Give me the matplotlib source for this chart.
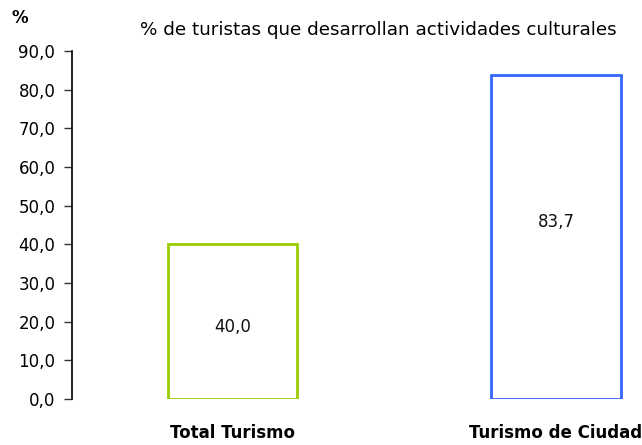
import matplotlib.pyplot as plt

# --- Datos ---
categorias = ["Total Turismo", "Turismo de Ciudad"]
valores = [40.0, 83.7]
colores = ["#99cc00", "#3366ff"]
# altura de la etiqueta dentro de la barra (fracción del valor)
pos_etiqueta = [0.465, 0.547]

plt.rcParams['font.family'] = ['DejaVu Sans']

fig = plt.figure(figsize=(6.42, 4.45), dpi=100)
ax = fig.add_axes([72/642, 46/445, 568/642, 348/445])

x = list(range(len(categorias)))
ax.bar(x, valores, width=0.40, facecolor="white", edgecolor=colores, linewidth=2.0)

for i, v in enumerate(valores):
    ax.text(x[i], v * pos_etiqueta[i], f"{v:.1f}".replace(".", ","),
            ha="center", va="center", fontsize=12, color="#111111")

ax.set_xlim(-0.496, 1.26)
ax.set_ylim(0, 90)
ax.set_yticks(range(0, 91, 10))
ax.set_yticklabels([f"{t:.1f}".replace(".", ",") for t in range(0, 91, 10)], fontsize=12)
ax.set_xticks(x)
ax.set_xticklabels(categorias, fontsize=12, fontweight="bold")
ax.tick_params(axis="x", length=0, pad=18)
ax.tick_params(axis="y", direction="out", length=6, width=1, color="#333333", pad=6)

for lado in ["top", "right", "bottom"]:
    ax.spines[lado].set_visible(False)
ax.spines["left"].set_linewidth(1.2)

fig.text(378/642, 1 - 30/445, "% de turistas que desarrollan actividades culturales",
         ha="center", va="center", fontsize=13.2)
fig.text(12/642, 1 - 18/445, "%", ha="left", va="center", fontsize=12, fontweight="bold")

plt.savefig("out.png", dpi=100)
